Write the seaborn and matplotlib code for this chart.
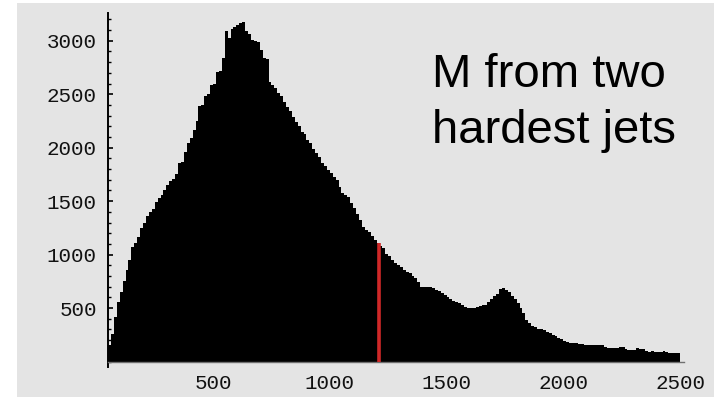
import numpy as np
import pandas as pd
import matplotlib
matplotlib.use("Agg")
import matplotlib.pyplot as plt
import seaborn as sns
from matplotlib.patches import Rectangle
from matplotlib.ticker import MultipleLocator, FixedLocator

# Dijet invariant mass histogram: bins of 12.5 starting at 50
mass_start = 50.0
bin_width = 12.5
counts = [
    150, 260, 420, 560, 650, 750, 860, 950,
    1070, 1110, 1160, 1250, 1300, 1360, 1400, 1430,
    1490, 1530, 1560, 1600, 1650, 1690, 1710, 1750,
    1860, 1870, 1960, 2040, 2090, 2170, 2250, 2390,
    2400, 2480, 2500, 2590, 2600, 2710, 2720, 2840,
    3090, 3030, 3110, 3130, 3150, 3170, 3180, 3090,
    3060, 3010, 3000, 2990, 2910, 2840, 2830, 2610,
    2590, 2560, 2510, 2480, 2430, 2380, 2340, 2290,
    2240, 2200, 2150, 2130, 2070, 2040, 1990, 1950,
    1910, 1860, 1830, 1790, 1760, 1730, 1700, 1630,
    1580, 1560, 1540, 1480, 1440, 1380, 1320, 1260,
    1230, 1210, 1170, 1140, 1110, 1080, 1060, 1010,
    990, 950, 920, 900, 880, 860, 840, 830,
    800, 780, 740, 700, 700, 700, 695, 690,
    670, 660, 640, 620, 600, 580, 570, 560,
    550, 530, 510, 500, 500, 505, 510, 520,
    525, 530, 560, 580, 610, 630, 680, 690,
    670, 650, 610, 580, 550, 500, 450, 390,
    360, 330, 320, 300, 300, 290, 280, 270,
    250, 240, 220, 210, 190, 180, 175, 175,
    170, 165, 160, 155, 155, 150, 155, 150,
    155, 150, 140, 130, 125, 130, 125, 135,
    135, 120, 110, 105, 110, 125, 120, 115,
    100, 90, 95, 90, 85, 90, 95, 85,
    80, 80, 75, 80,
]
cut_mass = 1210.0

x_ticks = [500, 1000, 1500, 2000, 2500]
y_ticks = [500, 1000, 1500, 2000, 2500, 3000]
title_lines = ["M from two", "hardest jets"]

edges = [mass_start + bin_width * i for i in range(len(counts) + 1)]
hist_df = pd.DataFrame({"mass": np.array(edges[:-1]) + bin_width / 2,
                        "count": counts})

sns.set_style("white")
plt.rcParams["font.family"] = ["Liberation Sans", "DejaVu Sans"]

W, H = 714, 397
fig = plt.figure(figsize=(W / 100, H / 100), dpi=100, facecolor="white")
fig.patches.append(Rectangle((17 / W, 0), 1 - 17 / W, 1 - 3 / H,
                             transform=fig.transFigure, facecolor="#e4e4e4",
                             edgecolor="none", zorder=-10))

ax = fig.add_axes([108 / W, 35.5 / H, (684 - 108) / W, (361.5 - 13) / H])
ax.set_facecolor("none")

sns.histplot(data=hist_df, x="mass", weights="count", bins=edges,
             element="step", fill=True, color="black", alpha=1,
             linewidth=0, ax=ax)

# Mass cut marker, drawn up to the height of its bin
cut_bin = int((cut_mass - mass_start) // bin_width)
ax.vlines(cut_mass, 0, counts[cut_bin], color="#d02828", linewidth=2.6, zorder=5)

ax.set_xlim(mass_start, 2517)
ax.set_ylim(0, 3260)
ax.set_xlabel("")
ax.set_ylabel("")

ax.xaxis.set_major_locator(FixedLocator(x_ticks))
ax.yaxis.set_major_locator(FixedLocator(y_ticks))
ax.yaxis.set_minor_locator(MultipleLocator(100))
ax.set_xticklabels([str(t) for t in x_ticks])
ax.set_yticklabels([str(t) for t in y_ticks])

for side in ("top", "right"):
    ax.spines[side].set_visible(False)
ax.spines["left"].set_color("black")
ax.spines["left"].set_linewidth(1.4)
ax.spines["left"].set_bounds(-50, 3260)
ax.spines["bottom"].set_color("#707070")
ax.spines["bottom"].set_linewidth(1.0)

ax.tick_params(axis="y", which="major", direction="in", length=3.5, width=1.2,
               color="black", left=True, pad=8)
ax.tick_params(axis="y", which="minor", direction="in", length=2.2, width=1.0,
               color="black", left=True)
ax.tick_params(axis="x", which="major", direction="in", length=0, pad=9)
for lab in ax.get_xticklabels() + ax.get_yticklabels():
    lab.set_family("Liberation Mono")
    lab.set_fontsize(15)
    lab.set_color("#111111")

fig.text(432 / W, (H - 87) / H, title_lines[0], fontsize=34,
         va="baseline", ha="left", color="black")
fig.text(432 / W, (H - 143) / H, title_lines[1], fontsize=34,
         va="baseline", ha="left", color="black")

fig.savefig("out.png", dpi=100, facecolor=fig.get_facecolor())
